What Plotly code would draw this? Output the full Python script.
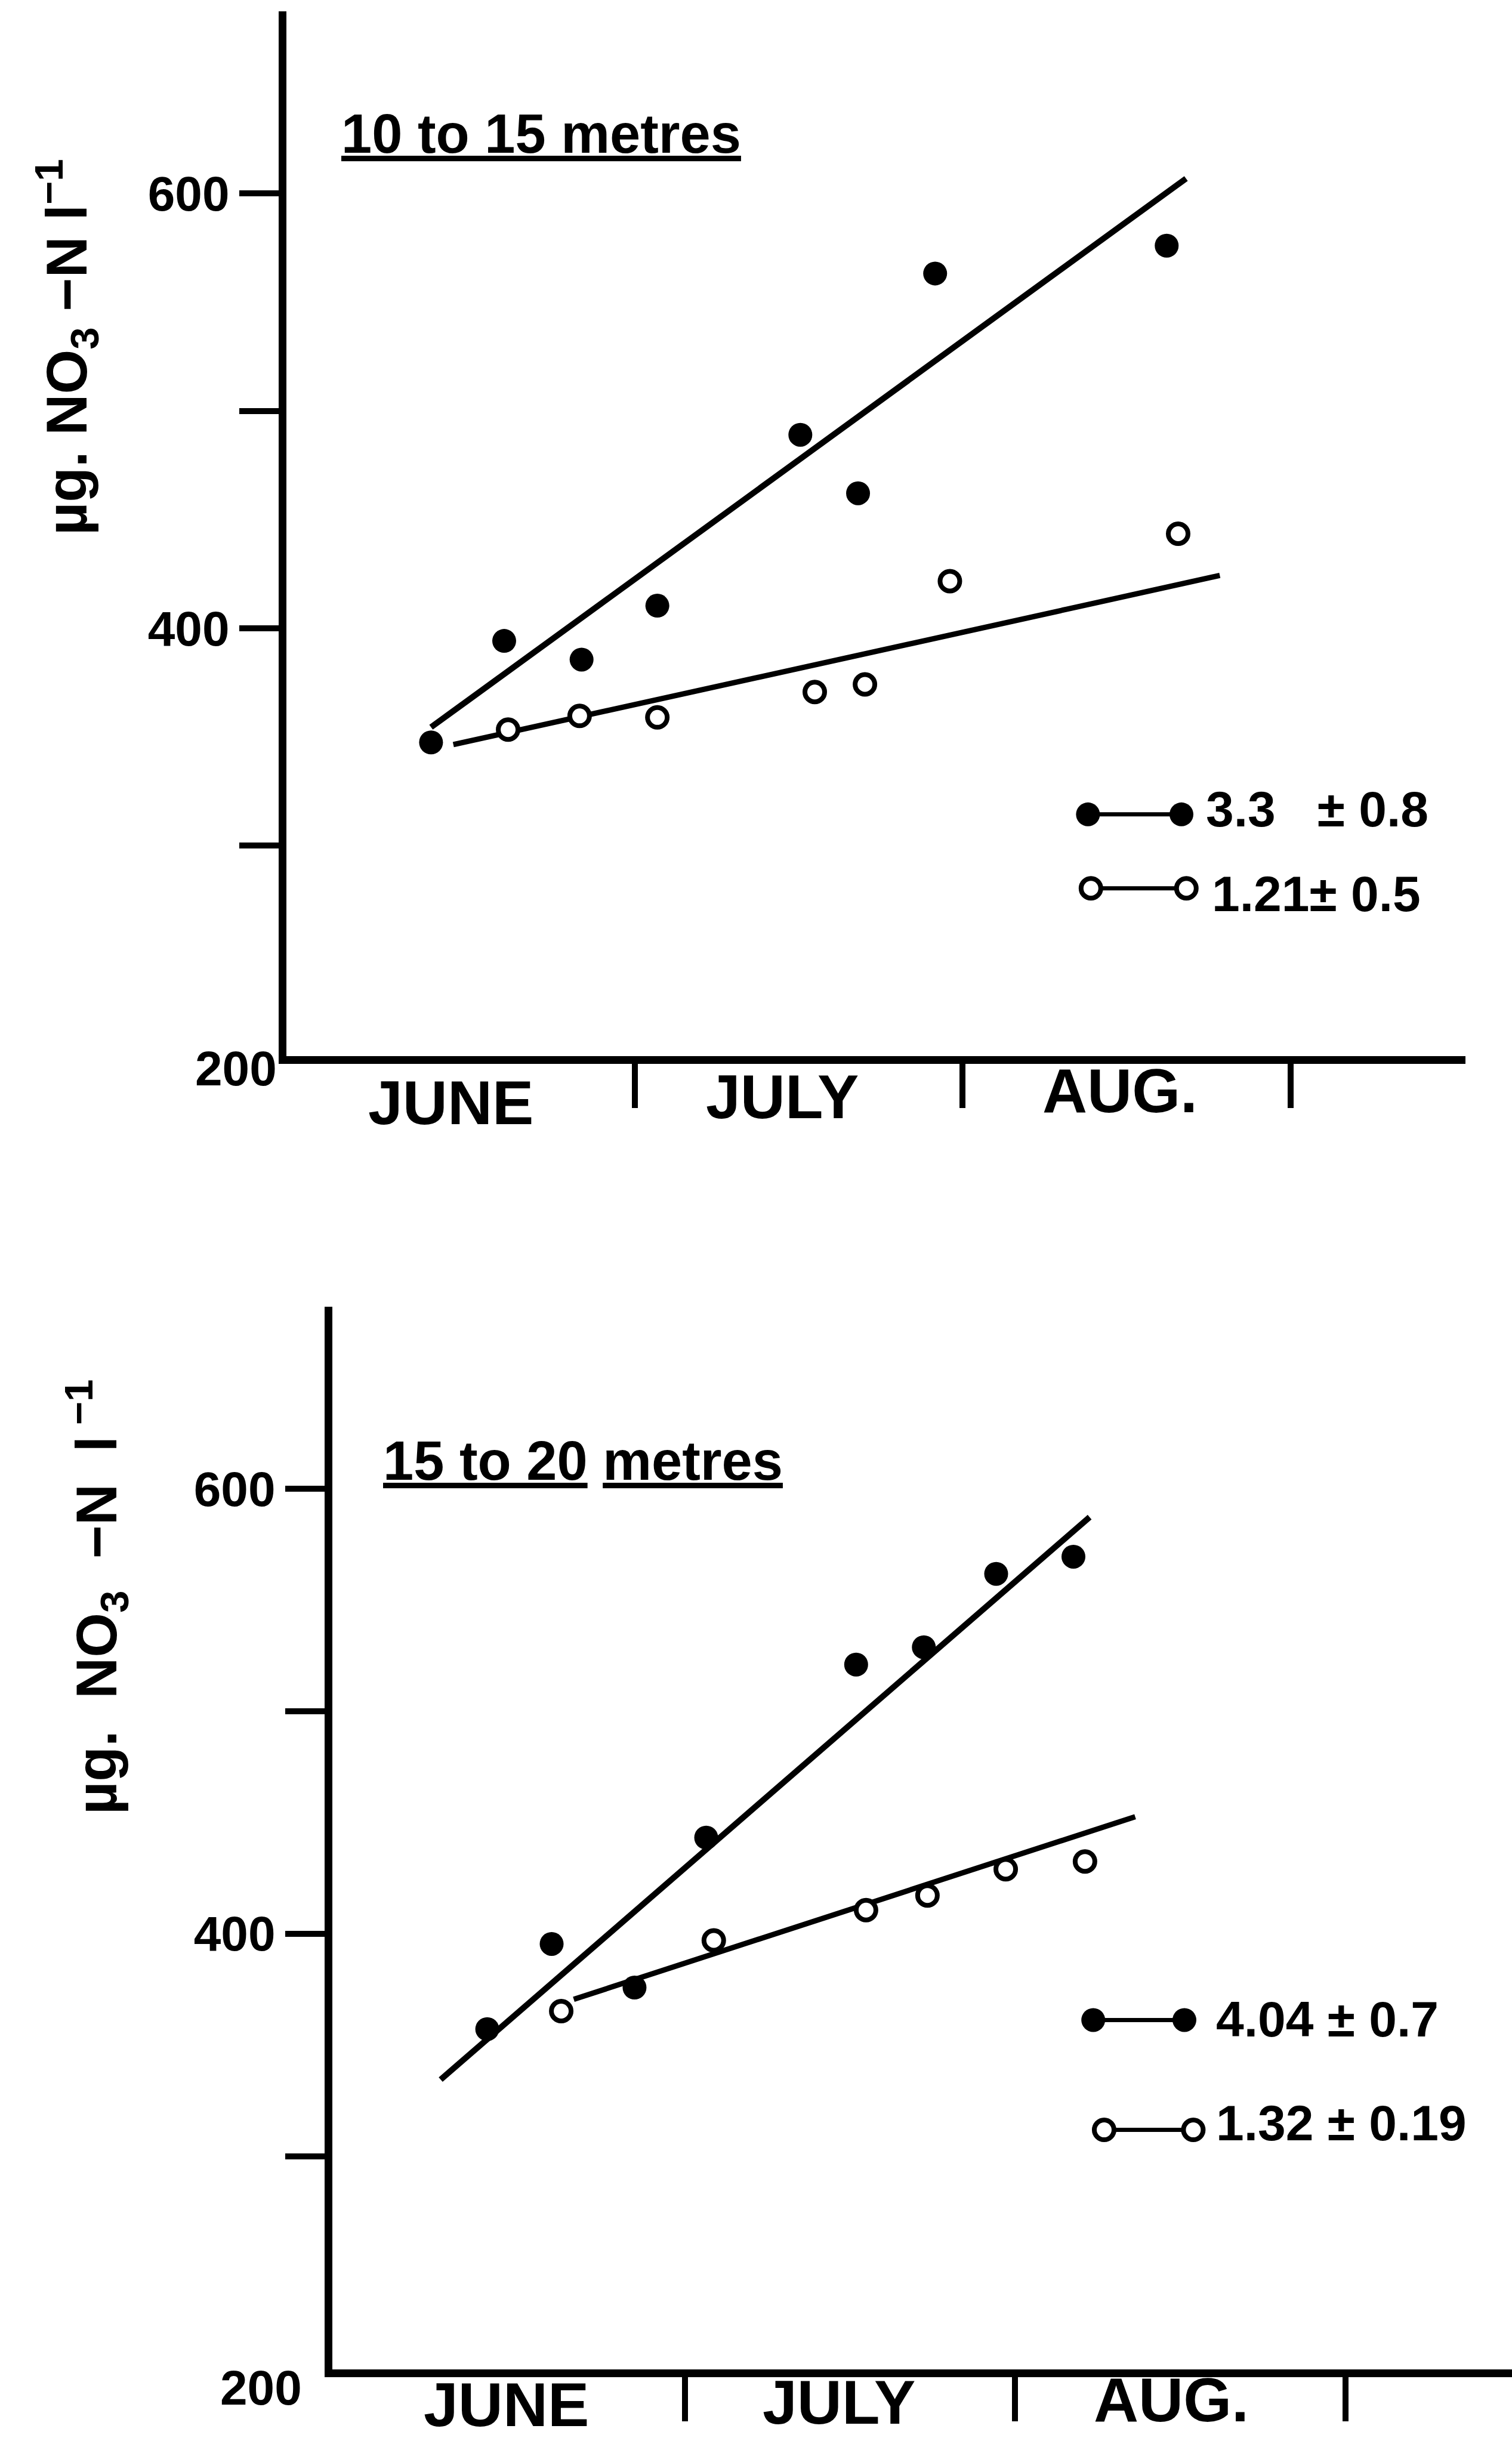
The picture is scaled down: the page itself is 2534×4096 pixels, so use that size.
import plotly.graph_objects as go

W, H = 2534, 4096
FONT = "Liberation Sans, Arial, sans-serif"

# ---------------- data (x = months after 1 June, y = ug NO3-N per litre) ----------------
TOP_FILLED_X = [0.379, 0.602, 0.838, 1.069, 1.505, 1.681, 1.916, 2.622]
TOP_FILLED_Y = [347.5, 394.2, 385.6, 410.4, 489.0, 462.1, 563.2, 576.0]
TOP_OPEN_X = [0.614, 0.832, 1.069, 1.549, 1.702, 1.961, 2.657]
TOP_OPEN_Y = [353.4, 359.7, 359.0, 370.7, 374.2, 421.7, 443.5]
TOP_FIT_FILLED_X = [0.379, 2.681]
TOP_FIT_FILLED_Y = [354.5, 606.9]
TOP_FIT_OPEN_X = [0.447, 2.784]
TOP_FIT_OPEN_Y = [346.5, 424.3]

BOT_FILLED_X = [0.402, 0.597, 0.848, 1.065, 1.519, 1.724, 1.943, 2.177]
BOT_FILLED_Y = [357.1, 395.4, 375.8, 443.2, 521.0, 528.8, 561.8, 569.5]
BOT_OPEN_X = [0.626, 1.088, 1.549, 1.735, 1.972, 2.212]
BOT_OPEN_Y = [365.2, 397.0, 410.6, 417.2, 429.0, 432.5]
BOT_FIT_FILLED_X = [0.261, 2.226]
BOT_FIT_FILLED_Y = [334.4, 587.3]
BOT_FIT_OPEN_X = [0.664, 2.364]
BOT_FIT_OPEN_Y = [370.5, 452.6]

TOP_SLOPES = ["3.3\u00a0\u00a0\u00a0\u00b1\u00a00.8", "1.21\u00b1\u00a00.5"]
BOT_SLOPES = ["4.04\u00a0\u00b1\u00a00.7", "1.32\u00a0\u00b1\u00a00.19"]
MONTHS = ["JUNE", "JULY", "AUG."]
MONTH_BOUNDS = [1, 2, 3]
Y_TICKS = [300, 400, 500, 600]
Y_TICKTEXT = ["", "400", "", "600"]
TITLES = ["<u>10 to 15 metres</u>", "<u>15 to 20</u>\u00a0<u>metres</u>"]
YTITLES = ["\u00b5g. NO<sub>3</sub> \u2212N l<sup>\u22121</sup>",
           "\u00b5g.\u00a0\u00a0NO<sub>3</sub>\u00a0\u00a0\u2212N\u00a0\u00a0l<sup>\u00a0\u22121</sup>"]

# ---------------- layout constants (pixels / positions) ----------------
def fx(px):
    return px / W

def fy(py):
    return 1 - py / H

AXW = 13
FIT_W = 10
FILLED_SIZE = 40
OPEN_SIZE = 33
OPEN_LW = 8

fig = go.Figure()

def add_panel(xa, ya, fx_, fy_, ox, oy, fitfx, fitfy, fitox, fitoy):
    fig.add_trace(go.Scatter(x=fitfx, y=fitfy, mode="lines", xaxis=xa, yaxis=ya,
                             line=dict(color="black", width=FIT_W), showlegend=False,
                             hoverinfo="skip"))
    fig.add_trace(go.Scatter(x=fitox, y=fitoy, mode="lines", xaxis=xa, yaxis=ya,
                             line=dict(color="black", width=FIT_W - 1), showlegend=False,
                             hoverinfo="skip"))
    fig.add_trace(go.Scatter(x=fx_, y=fy_, mode="markers", xaxis=xa, yaxis=ya,
                             marker=dict(symbol="circle", size=FILLED_SIZE, color="black",
                                         line=dict(width=0)),
                             showlegend=False))
    fig.add_trace(go.Scatter(x=ox, y=oy, mode="markers", xaxis=xa, yaxis=ya,
                             marker=dict(symbol="circle", size=OPEN_SIZE, color="white",
                                         line=dict(width=OPEN_LW, color="black")),
                             showlegend=False))

add_panel("x", "y", TOP_FILLED_X, TOP_FILLED_Y, TOP_OPEN_X, TOP_OPEN_Y,
          TOP_FIT_FILLED_X, TOP_FIT_FILLED_Y, TOP_FIT_OPEN_X, TOP_FIT_OPEN_Y)
add_panel("x2", "y2", BOT_FILLED_X, BOT_FILLED_Y, BOT_OPEN_X, BOT_OPEN_Y,
          BOT_FIT_FILLED_X, BOT_FIT_FILLED_Y, BOT_FIT_OPEN_X, BOT_FIT_OPEN_Y)

# legend keys (dot-line-dot), positioned in axis units
KEYS = [
    ("x", "y", [2.382, 2.667], 314.4, [2.391, 2.682], 280.4),
    ("x2", "y2", [2.237, 2.513], 361.2, [2.270, 2.540], 311.8),
]
for xa, ya, kfx, kfy, kox, koy in KEYS:
    fig.add_trace(go.Scatter(x=kfx, y=[kfy, kfy], mode="lines+markers", xaxis=xa, yaxis=ya,
                             line=dict(color="black", width=7),
                             marker=dict(symbol="circle", size=FILLED_SIZE, color="black"),
                             showlegend=False))
    fig.add_trace(go.Scatter(x=kox, y=[koy, koy], mode="lines+markers", xaxis=xa, yaxis=ya,
                             line=dict(color="black", width=7),
                             marker=dict(symbol="circle", size=OPEN_SIZE, color="white",
                                         line=dict(width=OPEN_LW, color="black")),
                             showlegend=False))

tickfont = dict(family=FONT, size=82, color="black", weight="bold")

def xaxis_cfg(domain, rng):
    return dict(domain=domain, range=rng, showgrid=False, zeroline=False,
                showline=True, linecolor="black", linewidth=AXW,
                tickmode="array", tickvals=MONTH_BOUNDS, showticklabels=False,
                ticks="outside", ticklen=74, tickwidth=10, tickcolor="black")

def yaxis_cfg(domain, rng, anchor):
    return dict(domain=domain, range=rng, showgrid=False, zeroline=False, anchor=anchor,
                showline=True, linecolor="black", linewidth=AXW,
                tickmode="array", tickvals=Y_TICKS, ticktext=Y_TICKTEXT,
                ticks="outside", ticklen=66, tickwidth=10, tickcolor="black",
                tickfont=tickfont)

# panel geometry in output pixels
TOP_BOX = (480, 2456, 19, 1770)
BOT_BOX = (557, 2534, 2190, 3971)

fig.update_layout(
    width=W, height=H, margin=dict(l=0, r=0, t=0, b=0),
    paper_bgcolor="white", plot_bgcolor="white", showlegend=False,
    xaxis=xaxis_cfg([fx(TOP_BOX[0]), fx(TOP_BOX[1])], [-0.062, 3.533]) | dict(anchor="y"),
    yaxis=yaxis_cfg([fy(TOP_BOX[3]), fy(TOP_BOX[2])], [203.2, 683.8], "x"),
    xaxis2=xaxis_cfg([fx(BOT_BOX[0]), fx(BOT_BOX[1])], [-0.067, 3.505]) | dict(anchor="y2"),
    yaxis2=yaxis_cfg([fy(BOT_BOX[3]), fy(BOT_BOX[2])], [204.1, 681.9], "x2"),
)

ann = []
def A(text, x, y, size, xref="paper", yref="paper", xanchor="center", yanchor="middle", angle=0):
    ann.append(dict(text=text, x=x, y=y, xref=xref, yref=yref, xanchor=xanchor,
                    yanchor=yanchor, showarrow=False, textangle=angle,
                    font=dict(family=FONT, size=size, color="black", weight="bold")))

# titles
A(TITLES[0], fx(907), fy(224), 92)
A(TITLES[1], fx(977), fy(2448), 92)
# y titles
A(YTITLES[0], fx(111), fy(582), 96, angle=-90)
A(YTITLES[1], fx(161), fy(2677), 96, angle=-90)
# '200' labels at axis corners
A("200", fx(395), fy(1790), 82)
A("200", fx(437), fy(4001), 82)
# month labels
for m, xv, py in zip(MONTHS, [0.44, 1.45, 2.48], [1848, 1838, 1828]):
    A(m, xv, fy(py), 104, xref="x")
for m, xv, py in zip(MONTHS, [0.459, 1.467, 2.474], [4030, 4026, 4022]):
    A(m, xv, fy(py), 104, xref="x2")
# slope labels
A(TOP_SLOPES[0], 2.738, 316.8, 84, xref="x", yref="y", xanchor="left")
A(TOP_SLOPES[1], 2.756, 277.9, 84, xref="x", yref="y", xanchor="left")
A(BOT_SLOPES[0], 2.606, 361.5, 84, xref="x2", yref="y2", xanchor="left")
A(BOT_SLOPES[1], 2.606, 315.0, 84, xref="x2", yref="y2", xanchor="left")

fig.update_layout(annotations=ann)
fig.write_html("out.html")
